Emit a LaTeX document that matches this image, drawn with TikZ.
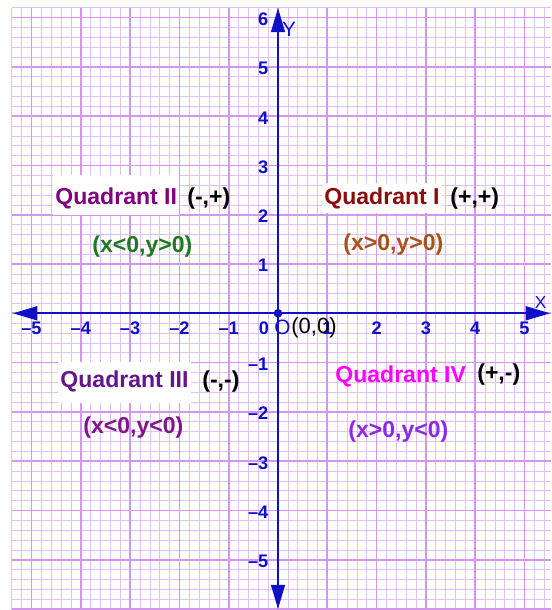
\documentclass[tikz,border=0pt]{standalone}
\usepackage{fontspec}
\setmainfont{Liberation Sans}
\usetikzlibrary{arrows.meta}
\definecolor{axblue}{RGB}{15,15,200}
\definecolor{gridminor}{RGB}{228,190,250}
\definecolor{gridmajor}{RGB}{212,150,240}
\definecolor{qonecol}{RGB}{140,12,12}
\definecolor{conecol}{RGB}{170,80,25}
\definecolor{qtwocol}{RGB}{128,0,128}
\definecolor{ctwocol}{RGB}{30,120,30}
\definecolor{qthreecol}{RGB}{100,20,140}
\definecolor{cthreecol}{RGB}{130,20,140}
\definecolor{qfourcol}{RGB}{255,0,255}
\definecolor{cfourcol}{RGB}{140,40,230}
\begin{document}
\begin{tikzpicture}[x=1cm,y=1cm,
  minorgrid/.style={draw=gridminor,line width=0.35pt},
  majorgrid/.style={draw=gridmajor,line width=1.0pt},
  axisline/.style={draw=axblue,line width=1.2pt,-{Triangle[length=14pt,width=8pt]}},
  tickfont/.style={font=\fontsize{10.5pt}{12pt}\selectfont\bfseries,text=axblue,inner sep=0pt},
  tickx/.style={tickfont,anchor=base},
  ticky/.style={tickfont,anchor=east},
  bigtext/.style={font=\fontsize{13.3pt}{15pt}\selectfont\bfseries,inner sep=0pt,anchor=base west},
  whitebox/.style={fill=white,inner xsep=1.2pt,inner ysep=0pt},
  signtext/.style={bigtext,text=black},
]
\useasboundingbox (-5.639,-6.018) rectangle (5.538,6.355);
\fill[white] (-5.639,-6.018) rectangle (5.538,6.355);
% grid
\draw[minorgrid] (-5.401,-6.018) grid[step=0.2] (5.538,6.201);
\draw[majorgrid] (-5.401,-6.018) grid[step=1] (5.538,6.201);
% white boxes and quadrant names
\node[bigtext,whitebox,text=qtwocol,text height=16.8pt,text depth=6.2pt] (q2) at (-4.564,2.211) {Quadrant II};
\node[bigtext,whitebox,text=qonecol,text height=12.7pt,text depth=4.6pt] (q1) at (0.892,2.197) {Quadrant I};
\node[bigtext,whitebox,text=qthreecol,text height=14.4pt,text depth=9.2pt] (q3) at (-4.462,-1.495) {Quadrant III};
\node[bigtext,text=qfourcol] (q4) at (1.156,-1.394) {Quadrant IV};
% signs
\node[signtext] (s2) at (-1.846,2.217) {(-,+)};
\node[signtext] (s1) at (3.489,2.197) {(+,+)};
\node[signtext] (s3) at (-1.542,-1.495) {(-,-)};
\node[signtext] (s4) at (4.036,-1.353) {(+,-)};
% conditions
\node[bigtext,text=ctwocol] (c2) at (-3.773,1.243) {(x<0,y>0)};
\node[bigtext,text=conecol] (c1) at (1.318,1.284) {(x>0,y>0)};
\node[bigtext,text=cthreecol] (c3) at (-3.955,-2.428) {(x<0,y<0)};
\node[bigtext,text=cfourcol] (c4) at (1.420,-2.529) {(x>0,y<0)};
% axes
\coordinate (o) at (0,0);
\coordinate (xl) at (-5.375,0);
\coordinate (xr) at (5.517,0);
\coordinate (yt) at (0,6.193);
\coordinate (yb) at (0,-5.998);
\draw[axisline] (o) -- (xr);
\draw[axisline] (o) -- (xl);
\draw[axisline] (o) -- (yt);
\draw[axisline] (o) -- (yb);
% tick labels
\foreach \k in {1,...,5} {
  \node[tickx] (txp\k) at (\k,-0.42) {\k};
  \node[tickx] (txm\k) at (-\k,-0.42) {–\k};
  \node[ticky] (tym\k) at (-0.19,-\k-0.035) {–\k};
}
\foreach \k in {1,...,6} {
  \node[ticky] (typ\k) at (-0.19,\k-0.035) {\k};
}
\node[tickx] (tx0) at (-0.284,-0.42) {0};
% axis names
\node[font=\fontsize{10pt}{11pt}\selectfont,text=axblue,inner sep=0pt] (xname) at (5.325,0.209) {X};
\node[font=\fontsize{12pt}{13pt}\selectfont,text=axblue,inner sep=0pt] (yname) at (0.223,5.757) {Y};
% origin
\node[circle,fill=axblue,inner sep=0pt,minimum size=5pt] (origin) at (o) {};
\node[font=\fontsize{12pt}{13pt}\selectfont,text=axblue,inner sep=0pt] (oname) at (0.09,-0.285) {O};
\node[font=\fontsize{12.7pt}{14pt}\selectfont,text=black,inner sep=0pt,anchor=base west] (olabel) at (0.264,-0.400) {(0,0)};
\end{tikzpicture}
\end{document}
